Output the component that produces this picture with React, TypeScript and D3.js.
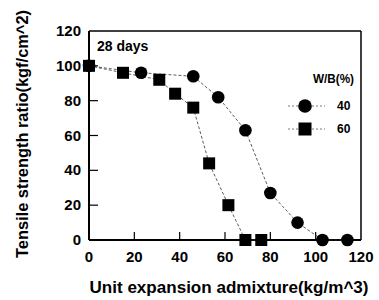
import * as d3 from "d3";

const xTicks = [0, 20, 40, 60, 80, 100, 120];
const yTicks = [0, 20, 40, 60, 80, 100, 120];

// W/B = 40%
const wb40X = [0, 23, 46, 57, 69, 80, 92, 103, 114];
const wb40Y = [100, 96, 94, 82, 63, 27, 10, 0, 0];

// W/B = 60%
const wb60X = [0, 15, 31, 38, 46, 53, 61.5, 69, 76];
const wb60Y = [100, 96, 92, 84, 76, 44, 20, 0, 0];

const FONT = "'Liberation Sans', Arial, sans-serif";

export default function App() {
  const width = 379;
  const height = 300;
  const left = 89;
  const right = 361;
  const top = 31;
  const bottom = 240;

  const x = d3.scaleLinear().domain([0, 120]).range([left, right]);
  const y = d3.scaleLinear().domain([0, 120]).range([bottom, top]);

  const line = d3
    .line<[number, number]>()
    .x((d) => x(d[0]))
    .y((d) => y(d[1]));

  const pts40 = wb40X.map((v, i) => [v, wb40Y[i]] as [number, number]);
  const pts60 = wb60X.map((v, i) => [v, wb60Y[i]] as [number, number]);

  const sq = 12;
  const r = 6.3;

  return (
    <svg
      width={width}
      height={height}
      style={{ position: "absolute", left: 0, top: 0, background: "#fff" }}
      fontFamily={FONT}
      fontWeight="bold"
    >
      {/* frame */}
      <line x1={left} x2={right} y1={top} y2={top} stroke="#000" strokeWidth={1.5} />
      <line x1={right} x2={right} y1={top} y2={bottom} stroke="#000" strokeWidth={1.5} />
      <line x1={left} x2={left} y1={top} y2={bottom} stroke="#000" strokeWidth={2} />
      <line x1={left} x2={right} y1={bottom} y2={bottom} stroke="#000" strokeWidth={2} />

      {/* ticks */}
      {yTicks.slice(1, -1).map((t) => (
        <line key={"yt" + t} x1={left} x2={left + 9} y1={y(t)} y2={y(t)} stroke="#000" strokeWidth={1.2} />
      ))}
      {xTicks.slice(1, -1).map((t) => (
        <line key={"xt" + t} x1={x(t)} x2={x(t)} y1={bottom} y2={bottom - 8} stroke="#000" strokeWidth={1.2} />
      ))}

      {/* tick labels */}
      {yTicks.map((t) => (
        <text key={"yl" + t} x={81} y={y(t) + 5} textAnchor="end" fontSize={15}>
          {t}
        </text>
      ))}
      {xTicks.map((t) => (
        <text key={"xl" + t} x={x(t)} y={262} textAnchor="middle" fontSize={15}>
          {t}
        </text>
      ))}

      {/* axis titles */}
      <text x={229} y={293} textAnchor="middle" fontSize={17} textLength={279} lengthAdjust="spacingAndGlyphs">
        Unit expansion admixture(kg/m^3)
      </text>
      <text
        transform="translate(28,134) rotate(-90)"
        textAnchor="middle"
        fontSize={16}
        textLength={248}
        lengthAdjust="spacingAndGlyphs"
      >
        Tensile strength ratio(kgf/cm^2)
      </text>

      <text x={97} y={51} fontSize={14}>
        28 days
      </text>

      {/* series lines */}
      <path d={line(pts40) ?? ""} fill="none" stroke="#333" strokeWidth={0.8} strokeDasharray="3,2" />
      <path d={line(pts60) ?? ""} fill="none" stroke="#333" strokeWidth={0.8} strokeDasharray="3,2" />

      {/* markers */}
      {pts40.map((p, i) => (
        <circle key={"c" + i} cx={x(p[0])} cy={y(p[1])} r={r} fill="#000" />
      ))}
      {pts60.map((p, i) => (
        <rect key={"s" + i} x={x(p[0]) - sq / 2} y={y(p[1]) - sq / 2} width={sq} height={sq} fill="#000" />
      ))}

      {/* legend */}
      <text x={313} y={83} fontSize={12} textLength={41} lengthAdjust="spacingAndGlyphs">
        W/B(%)
      </text>
      <line x1={288} x2={325} y1={106} y2={106} stroke="#555" strokeWidth={0.8} strokeDasharray="2,2" />
      <circle cx={305} cy={106} r={r + 0.5} fill="#000" />
      <text x={337} y={110} fontSize={12}>
        40
      </text>
      <line x1={288} x2={325} y1={129} y2={129} stroke="#555" strokeWidth={0.8} strokeDasharray="2,2" />
      <rect x={305 - 6.5} y={129 - 6.5} width={13} height={13} fill="#000" />
      <text x={337} y={133} fontSize={12}>
        60
      </text>
    </svg>
  );
}
